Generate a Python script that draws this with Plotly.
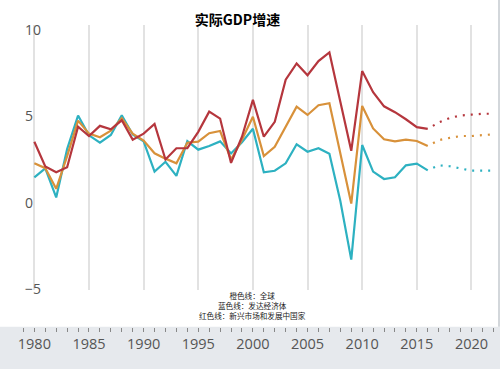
import plotly.graph_objects as go

# ---------------- data ----------------
years = list(range(1980, 2017))
emerging = [3.53, 2.1, 1.76, 2.05, 4.4, 3.86, 4.45, 4.25, 4.77, 3.65,
            4.0, 4.56, 2.5, 3.15, 3.16, 4.1, 5.27, 4.87, 2.3, 3.82,
            5.95, 3.82, 4.68, 7.12, 8.06, 7.38, 8.2, 8.7, 5.85, 3.0,
            7.62, 6.4, 5.58, 5.24, 4.83, 4.37, 4.27]
world = [2.28, 2.0, 0.8, 2.7, 4.75, 4.0, 3.79, 4.17, 4.89, 4.0,
         3.6, 2.86, 2.55, 2.28, 3.47, 3.53, 4.02, 4.15, 2.5, 3.65,
         4.98, 2.7, 3.24, 4.4, 5.56, 5.08, 5.64, 5.76, 2.9, -0.05,
         5.6, 4.3, 3.67, 3.55, 3.65, 3.57, 3.28]
advanced = [1.47, 1.99, 0.3, 3.1, 5.05, 3.9, 3.47, 3.92, 5.06, 3.95,
            3.55, 1.8, 2.37, 1.55, 3.57, 3.07, 3.28, 3.55, 2.85, 3.5,
            4.28, 1.76, 1.85, 2.28, 3.38, 2.95, 3.15, 2.83, 0.1, -3.3,
            3.34, 1.8, 1.37, 1.47, 2.16, 2.26, 1.87]

fc_years = list(range(2016, 2023))
emerging_fc = [4.27, 4.65, 4.9, 5.05, 5.1, 5.15, 5.15]
world_fc = [3.28, 3.62, 3.75, 3.86, 3.86, 3.9, 3.96]
advanced_fc = [1.87, 2.16, 2.11, 2.0, 1.85, 1.85, 1.85]

y_ticks = [10, 5, 0, -5]
title_text = "实际GDP增速"
notes = ["橙色线：全球", "蓝色线：发达经济体", "红色线：新兴市场和发展中国家"]

# ---------------- style ----------------
C_RED = "#b5363d"
C_ORANGE = "#d8913a"
C_TEAL = "#2db1c1"
LW = 2.2
DOT = "0px,6px,2px,0px"

fig = go.Figure()
for ys, col in [(advanced, C_TEAL), (world, C_ORANGE), (emerging, C_RED)]:
    fig.add_trace(go.Scatter(x=years, y=ys, mode="lines",
                             line=dict(color=col, width=LW),
                             showlegend=False, hoverinfo="skip"))
for ys, col in [(advanced_fc, C_TEAL), (world_fc, C_ORANGE), (emerging_fc, C_RED)]:
    fig.add_trace(go.Scatter(x=fc_years, y=ys, mode="lines",
                             line=dict(color=col, width=LW, dash=DOT),
                             showlegend=False, hoverinfo="skip"))

W, H = 500, 369
ML, MR, MT, MB = 22, 1, 25, 0
plot_h = H - MT - MB
band_top_px = 326.7
y_bottom_px = 289.5
x_pos = 1 - (band_top_px - MT) / plot_h
y_dom0 = 1 - (y_bottom_px - MT) / plot_h

fig.update_layout(
    width=W, height=H,
    margin=dict(l=ML, r=MR, t=MT, b=MB, autoexpand=False),
    paper_bgcolor="white", plot_bgcolor="white",
    font=dict(family="Open Sans", color="#555"),
    title=dict(text=title_text, x=0.475, xref="container", xanchor="center",
               y=1 - 20 / H, yref="container", yanchor="middle",
               font=dict(family="Noto Sans CJK SC", size=14, color="#000", weight=700)),
    xaxis=dict(range=[1978.87, 2022.52], anchor="free", position=x_pos,
               automargin=False,
               tick0=1980, dtick=5, ticks="outside", ticklen=4, tickwidth=1,
               tickcolor="#888", showline=False, zeroline=False,
               showgrid=True, gridcolor="#e2e2e2", gridwidth=1.5,
               tickfont=dict(family="Open Sans", size=14.5, color="#555"),
               minor=dict(dtick=1, ticks="outside", ticklen=4, tickwidth=1,
                          tickcolor="#888", showgrid=False),
               fixedrange=True),
    yaxis=dict(range=[-5.03, 10.29], domain=[y_dom0, 1], automargin=False,
               tickvals=y_ticks, ticks="", showgrid=False, zeroline=False,
               showline=False, ticklabelposition="inside",
               ticklabeloverflow="allow",
               tickfont=dict(family="Open Sans", size=14, color="#555"),
               fixedrange=True),
    shapes=[
        dict(type="rect", xref="paper", yref="paper", x0=-0.1, x1=1.1,
             y0=-0.02, y1=x_pos, fillcolor="#e6e9ed", line=dict(width=0),
             layer="below"),
        dict(type="line", xref="paper", yref="paper", x0=1, x1=1,
             y0=x_pos, y1=1.1, line=dict(color="#d3d7db", width=2)),
    ],
    annotations=[
        dict(text="<br>".join(notes), xref="paper", yref="paper",
             x=(252 - ML) / (W - ML - MR), y=1 - (305.5 - MT) / plot_h,
             xanchor="center", yanchor="middle", align="center",
             showarrow=False,
             font=dict(family="Noto Sans CJK SC", size=7.6, color="#222")),
    ],
)

fig.write_html("out.html")
